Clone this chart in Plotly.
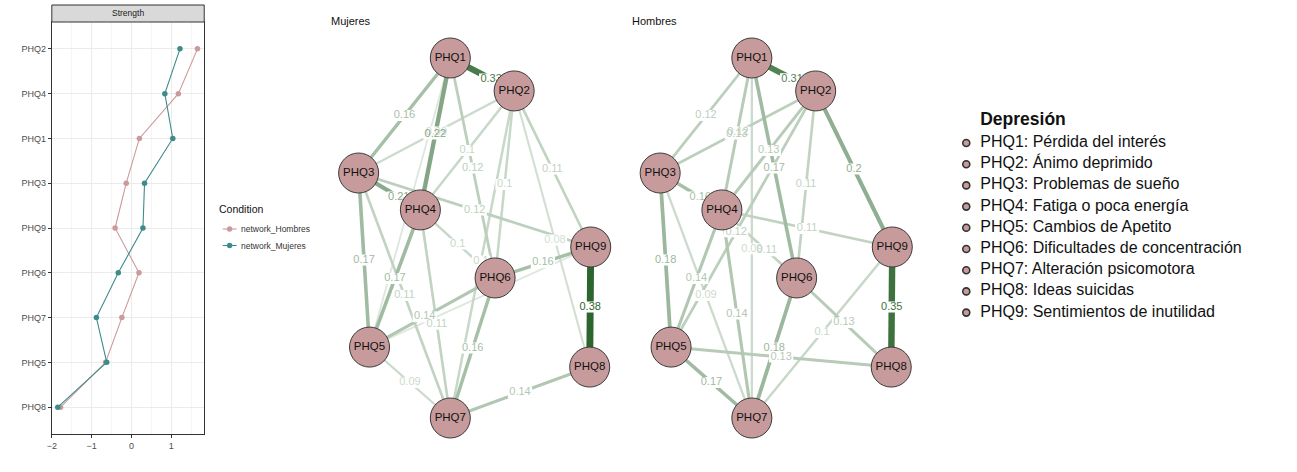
import plotly.graph_objects as go

W, H = 1297, 472
FONT = "Liberation Sans, Arial, sans-serif"

# ---------------- data ----------------
# Strength centrality (standardised), categories from bottom to top
strength_items = ["PHQ8", "PHQ5", "PHQ7", "PHQ6", "PHQ9", "PHQ3", "PHQ1", "PHQ4", "PHQ2"]
strength_hombres = [-1.78, -0.65, -0.24, 0.19, -0.41, -0.13, 0.20, 1.18, 1.66]
strength_mujeres = [-1.85, -0.62, -0.88, -0.33, 0.29, 0.33, 1.04, 0.84, 1.22]
strength_ticks = [-2, -1, 0, 1]
condition_names = ["network_Hombres", "network_Mujeres"]

# Network nodes (shared averaged layout, qgraph-like coordinates)
node_names = ["PHQ1", "PHQ2", "PHQ3", "PHQ4", "PHQ5", "PHQ6", "PHQ7", "PHQ8", "PHQ9"]
node_desc = ["Pérdida del interés", "Ánimo deprimido", "Problemas de sueño",
             "Fatiga o poca energía", "Cambios de Apetito",
             "Dificultades de concentración", "Alteración psicomotora",
             "Ideas suicidas", "Sentimientos de inutilidad"]
layout_x = [-0.21, 0.34, -1.0, -0.468, -0.906, 0.176, -0.21, 0.991, 1.0]
layout_y = [1.0, 0.817, 0.361, 0.156, -0.606, -0.222, -1.0, -0.717, -0.05]

# Mujeres network edges
muj_from = [1, 1, 1, 1, 1, 2, 2, 2, 2, 2, 2, 3, 3, 3, 3, 4, 4, 4, 5, 5, 5, 6, 6, 7, 8]
muj_to   = [2, 3, 4, 5, 6, 3, 4, 6, 7, 8, 9, 4, 5, 7, 9, 5, 6, 7, 6, 7, 9, 7, 9, 8, 9]
muj_w    = [0.33, 0.16, 0.22, 0.06, 0.12, 0.09, 0.10, 0.10, 0.10, 0.08, 0.11, 0.21, 0.17,
            0.11, 0.12, 0.17, 0.10, 0.11, 0.14, 0.09, 0.06, 0.16, 0.16, 0.14, 0.38]

# Hombres network edges
hom_from = [1, 1, 1, 1, 1, 2, 2, 2, 2, 2, 3, 3, 3, 4, 4, 4, 4, 5, 5, 6, 6, 7, 8]
hom_to   = [2, 3, 4, 6, 7, 3, 4, 5, 6, 9, 4, 5, 7, 5, 6, 7, 9, 7, 8, 7, 8, 9, 9]
hom_w    = [0.31, 0.12, 0.13, 0.17, 0.09, 0.12, 0.13, 0.12, 0.11, 0.20, 0.16, 0.18, 0.09,
            0.14, 0.11, 0.14, 0.11, 0.17, 0.13, 0.18, 0.13, 0.10, 0.35]

# ---------------- styles ----------------
COL_H = "#CC9A9A"
COL_M = "#3D8B8B"
NODE_FILL = "#C79B9B"
EDGE_DARK = (44, 102, 46)
WMAX = max(max(muj_w), max(hom_w))

# label positions along an edge (fraction from first node); default 0.5
muj_label_frac = {(1, 2): 0.64, (3, 4): 0.65, (2, 7): 0.52, (2, 8): 0.54, (4, 7): 0.55,
                  (5, 6): 0.44}
hom_label_frac = {(1, 2): 0.63, (3, 4): 0.65, (2, 5): 0.55, (1, 7): 0.53, (4, 6): 0.6}
muj_no_label = {(5, 9)}
hom_no_label = set()

# network pixel mapping: px = cx + sx * x ; py = cy - sy * y
SX, SY, CY = 116.5, 180.0, 238.0
CX_M, CX_H = 471.5, 774.2
Y_TOP, Y_BOT = 20, 460
LABEL_SIZE = 11


def edge_color(w):
    t = min(w / WMAX, 1.0)
    r = round(255 + (EDGE_DARK[0] - 255) * t)
    g = round(255 + (EDGE_DARK[1] - 255) * t)
    b = round(255 + (EDGE_DARK[2] - 255) * t)
    return f"rgb({r},{g},{b})"


def edge_width(w):
    return 0.9 + 6.0 * (w / WMAX)


def fmt(w):
    return f"{w:.2f}".rstrip("0")


fig = go.Figure()

# ---------------- strength plot ----------------
fig.add_trace(go.Scatter(x=strength_hombres, y=strength_items, mode="lines+markers",
                         line=dict(color=COL_H, width=1.1), marker=dict(size=5.5, color=COL_H),
                         name=condition_names[0], showlegend=False, xaxis="x", yaxis="y"))
fig.add_trace(go.Scatter(x=strength_mujeres, y=strength_items, mode="lines+markers",
                         line=dict(color=COL_M, width=1.1), marker=dict(size=5.5, color=COL_M),
                         name=condition_names[1], showlegend=False, xaxis="x", yaxis="y"))


# ---------------- networks ----------------
def add_network(src, dst, ws, frac, nolabel, xa, ya):
    order = sorted(range(len(ws)), key=lambda i: ws[i])
    lx, ly, lt, lc = [], [], [], []
    bx, by = [], []
    for i in order:
        a, b, w = src[i] - 1, dst[i] - 1, ws[i]
        xa_, ya_ = layout_x[a], layout_y[a]
        xb_, yb_ = layout_x[b], layout_y[b]
        col = edge_color(w)
        fig.add_trace(go.Scatter(x=[xa_, xb_], y=[ya_, yb_], mode="lines",
                                 line=dict(color=col, width=edge_width(w)),
                                 hoverinfo="skip", showlegend=False, xaxis=xa, yaxis=ya))
        if (src[i], dst[i]) in nolabel:
            continue
        f = frac.get((src[i], dst[i]), 0.5)
        cx = xa_ + (xb_ - xa_) * f
        cy = ya_ + (yb_ - ya_) * f
        txt = fmt(w)
        lx.append(cx)
        ly.append(cy)
        lt.append(txt)
        lc.append(col)
        # white label background box (qgraph edge.label.bg)
        hw = (len(txt) * 0.53 * LABEL_SIZE + 1) / 2 / SX
        hh = 0.5 * LABEL_SIZE / SY
        bx += [cx - hw, cx + hw, cx + hw, cx - hw, cx - hw, None]
        by += [cy - hh, cy - hh, cy + hh, cy + hh, cy - hh, None]
    fig.add_trace(go.Scatter(x=bx, y=by, mode="lines", fill="toself", fillcolor="white",
                             line=dict(width=0, color="rgba(255,255,255,0)"),
                             hoverinfo="skip", showlegend=False, xaxis=xa, yaxis=ya))
    fig.add_trace(go.Scatter(x=lx, y=ly, mode="text", text=lt,
                             textfont=dict(size=LABEL_SIZE, color=lc, family=FONT),
                             hoverinfo="skip", showlegend=False, xaxis=xa, yaxis=ya))
    fig.add_trace(go.Scatter(x=layout_x, y=layout_y, mode="markers+text", text=node_names,
                             textposition="middle center",
                             marker=dict(size=40, color=NODE_FILL, line=dict(color="#3a3a3a", width=1)),
                             textfont=dict(size=11.5, color="#111111", family=FONT),
                             hoverinfo="skip", showlegend=False, xaxis=xa, yaxis=ya))


add_network(muj_from, muj_to, muj_w, muj_label_frac, muj_no_label, "x2", "y2")
add_network(hom_from, hom_to, hom_w, hom_label_frac, hom_no_label, "x3", "y3")

# ---------------- right legend ----------------
row_y = [143 + 21.2 * i for i in range(len(node_names))]
fig.add_trace(go.Scatter(x=[965] * len(node_names), y=row_y, mode="markers",
                         marker=dict(size=7, color=NODE_FILL, line=dict(color="#333333", width=1.6)),
                         hoverinfo="skip", showlegend=False, xaxis="x4", yaxis="y4"))
fig.add_trace(go.Scatter(x=[979] * len(node_names), y=row_y, mode="text",
                         text=[f"{n}: {d}" for n, d in zip(node_names, node_desc)],
                         textposition="middle right",
                         textfont=dict(size=16, color="#111111", family=FONT),
                         hoverinfo="skip", showlegend=False, xaxis="x4", yaxis="y4"))
fig.add_trace(go.Scatter(x=[979], y=[121], mode="text", text=["<b>Depresión</b>"],
                         textposition="middle right",
                         textfont=dict(size=17.5, color="#111111", family=FONT),
                         hoverinfo="skip", showlegend=False, xaxis="x4", yaxis="y4"))


# ---------------- layout ----------------
def px_x(p):
    return p / W


def px_y(p):
    return 1 - p / H


def xr(d0, d1, cx):
    return [(d0 - cx) / SX, (d1 - cx) / SX]


yr = [(CY - Y_BOT) / SY, (CY - Y_TOP) / SY]
hidden = dict(visible=False, showgrid=False, zeroline=False, fixedrange=True)

fig.update_layout(
    width=W, height=H, autosize=False,
    margin=dict(l=0, r=0, t=0, b=0, pad=0),
    paper_bgcolor="white", plot_bgcolor="white",
    font=dict(family=FONT, color="#1a1a1a"),
    showlegend=False,
    xaxis=dict(domain=[px_x(47), px_x(200)], range=[-2.0, 1.83], tickvals=strength_ticks,
               ticks="outside", ticklen=3, tickcolor="#333333", tickwidth=1,
               tickfont=dict(size=9, color="#4D4D4D"),
               showgrid=True, gridcolor="#EBEBEB", gridwidth=1, zeroline=False,
               showline=True, mirror=True, linecolor="#333333", linewidth=1,
               minor=dict(dtick=0.5, tick0=0, showgrid=True, gridcolor="#F5F5F5", gridwidth=0.6)),
    yaxis=dict(domain=[px_y(434), px_y(22)], type="category", categoryorder="array",
               categoryarray=strength_items, range=[-0.6, len(strength_items) - 0.4],
               ticks="outside", ticklen=3, tickcolor="#333333", tickwidth=1,
               tickfont=dict(size=9, color="#4D4D4D"),
               showgrid=True, gridcolor="#EBEBEB", gridwidth=1, zeroline=False,
               showline=True, mirror=True, linecolor="#333333", linewidth=1),
    xaxis2=dict(domain=[px_x(300), px_x(620)], range=xr(300, 620, CX_M), anchor="y2", **hidden),
    yaxis2=dict(domain=[px_y(Y_BOT), px_y(Y_TOP)], range=yr, anchor="x2", **hidden),
    xaxis3=dict(domain=[px_x(620), px_x(940)], range=xr(620, 940, CX_H), anchor="y3", **hidden),
    yaxis3=dict(domain=[px_y(Y_BOT), px_y(Y_TOP)], range=yr, anchor="x3", **hidden),
    xaxis4=dict(domain=[px_x(940), 1.0], range=[940, W], anchor="y4", **hidden),
    yaxis4=dict(domain=[px_y(330), px_y(95)], range=[330, 95], anchor="x4", **hidden),
)

shapes = []
annotations = []
# facet strip
shapes.append(dict(type="rect", xref="paper", yref="paper", x0=px_x(47), x1=px_x(200),
                   y0=px_y(22), y1=px_y(5), fillcolor="#D9D9D9",
                   line=dict(color="#333333", width=1), layer="above"))
annotations.append(dict(text="Strength", xref="paper", yref="paper", x=px_x(123.5), y=px_y(13.5),
                        showarrow=False, xanchor="center", yanchor="middle",
                        font=dict(size=8.5, color="#1A1A1A")))
# condition legend
annotations.append(dict(text="Condition", xref="paper", yref="paper", x=px_x(213), y=px_y(209),
                        showarrow=False, xanchor="left", yanchor="middle",
                        font=dict(size=10.5, color="#111111")))
for k, (nm, col) in enumerate(zip(condition_names, [COL_H, COL_M])):
    yy = 229 + 16.5 * k
    shapes.append(dict(type="line", xref="paper", yref="paper", x0=px_x(218.5), x1=px_x(232.5),
                       y0=px_y(yy), y1=px_y(yy), line=dict(color=col, width=1.1)))
    shapes.append(dict(type="circle", xref="paper", yref="paper", x0=px_x(222.8), x1=px_x(228.2),
                       y0=px_y(yy + 2.7), y1=px_y(yy - 2.7), fillcolor=col, line=dict(width=0)))
    annotations.append(dict(text=nm, xref="paper", yref="paper", x=px_x(235), y=px_y(yy),
                            showarrow=False, xanchor="left", yanchor="middle",
                            font=dict(size=8.5, color="#333333")))
# network titles
annotations.append(dict(text="Mujeres", xref="paper", yref="paper", x=px_x(325), y=px_y(21),
                        showarrow=False, xanchor="left", yanchor="middle",
                        font=dict(size=11, color="#111111")))
annotations.append(dict(text="Hombres", xref="paper", yref="paper", x=px_x(627), y=px_y(21),
                        showarrow=False, xanchor="left", yanchor="middle",
                        font=dict(size=11, color="#111111")))

fig.update_layout(shapes=shapes, annotations=annotations)

fig.write_html("out.html", config={"displayModeBar": False},
               post_script="document.body.style.margin='0';")
